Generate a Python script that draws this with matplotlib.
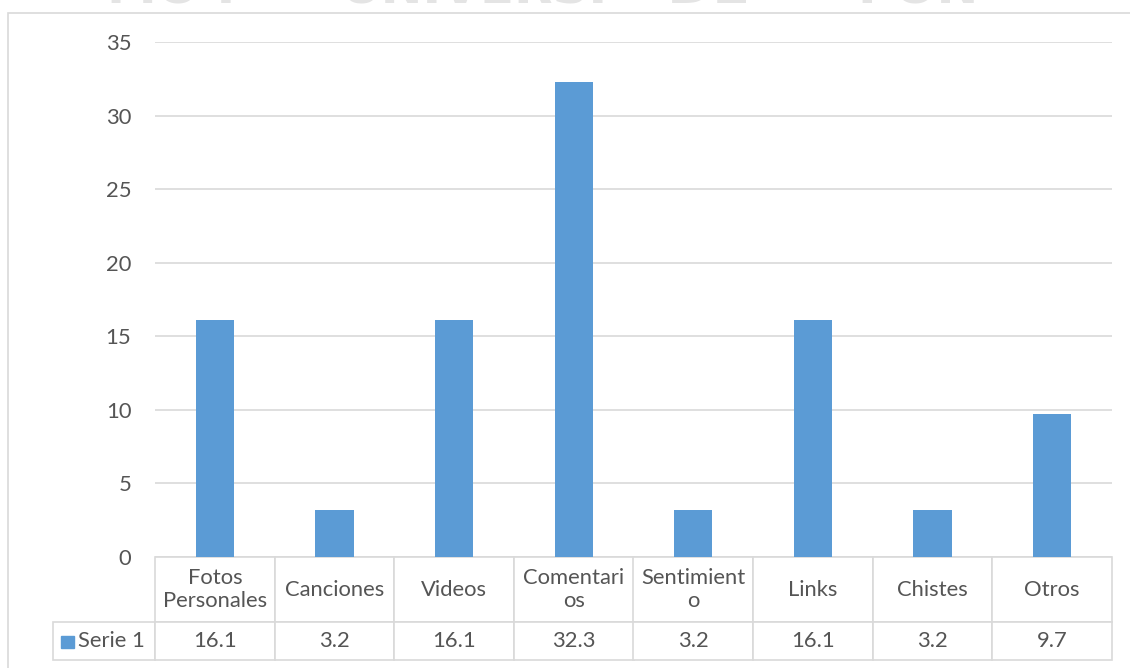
import numpy as np
import matplotlib.pyplot as plt
from matplotlib.patches import Rectangle

plt.rcParams['font.family'] = ['Lato', 'DejaVu Sans']

categories = ['Fotos\nPersonales', 'Canciones', 'Videos', 'Comentari\nos',
              'Sentimient\no', 'Links', 'Chistes', 'Otros']
values = [16.1, 3.2, 16.1, 32.3, 3.2, 16.1, 3.2, 9.7]
series_name = 'Serie 1'
yticks = [0, 5, 10, 15, 20, 25, 30, 35]

bar_color = '#5B9BD5'
text_color = '#555555'
line_color = '#d9d9d9'
fs = 15.8

W, H = 1130, 668
fig = plt.figure(figsize=(W / 100, H / 100), dpi=100)

# outer chart frame, right and bottom edges run off the canvas
fig.patches.append(Rectangle((8 / W, -0.05), 1.1, (H - 13) / H + 0.05,
                             transform=fig.transFigure, fill=False,
                             edgecolor=line_color, lw=1.2))

# faint watermark cut off at the top edge
wm = dict(color='#e4e4e4', fontweight='bold', va='bottom', family='DejaVu Sans')
fig.text(107 / W, 1 - 14 / H, 'MO I', fontsize=36, **wm)
fig.text(340 / W, 1 - 14 / H, 'UNIVERSI', fontsize=36, **wm)
fig.text(667 / W, 1 - 14 / H, 'DE', fontsize=40, **wm)
fig.text(858 / W, 1 - 14 / H, 'I ON', fontsize=36, **wm)

ax_l, ax_r, ax_t, ax_b = 155, 1112, 42, 557
ax = fig.add_axes([ax_l / W, (H - ax_b) / H, (ax_r - ax_l) / W, (ax_b - ax_t) / H])

x = np.arange(len(values))
ax.bar(x, values, width=0.32, color=bar_color, zorder=3)
ax.set_xlim(-0.5, len(values) - 0.5)
ax.set_ylim(0, 35)
ax.set_yticks(yticks)
ax.set_xticks([])
ax.yaxis.grid(True, color=line_color, lw=1.2)
ax.set_axisbelow(True)
for s in ax.spines.values():
    s.set_visible(False)
ax.tick_params(axis='y', length=0, pad=17, labelcolor=text_color, labelsize=fs)

# data table under the bars
aw, ah = ax_r - ax_l, ax_b - ax_t
tb_l, tb_b = 53, 660
cell_text = [[series_name] + [f'{v:.1f}' for v in values]]
tbl = ax.table(cellText=cell_text, colLabels=[''] + categories,
               cellLoc='center', colLoc='center',
               bbox=[(tb_l - ax_l) / aw, -(tb_b - ax_b) / ah,
                     (ax_r - tb_l) / aw, (tb_b - ax_b) / ah])
tbl.auto_set_font_size(False)
tbl.set_fontsize(fs)
col_w = [102] + [(ax_r - ax_l) / len(values)] * len(values)
row_h = [65, 38]
for (r, c), cell in tbl.get_celld().items():
    cell.set_width(col_w[c])
    cell.set_height(row_h[r])
    cell.set_edgecolor(line_color)
    cell.set_linewidth(1.2)
    t = cell.get_text()
    t.set_color(text_color)
    t.set_linespacing(1.15)
tbl[0, 0].visible_edges = 'open'
tbl[1, 0].get_text().set_horizontalalignment('right')

# legend key inside the series cell
fig.patches.append(Rectangle((61 / W, (H - 648) / H), 13 / W, 12 / H,
                             transform=fig.transFigure, color=bar_color))

fig.savefig('out.png', dpi=100)
